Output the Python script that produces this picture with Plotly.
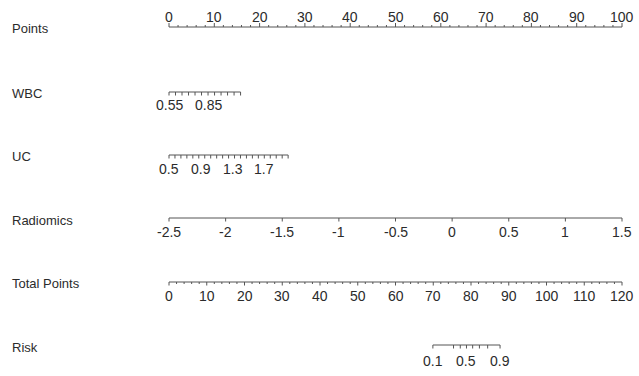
import numpy as np
import plotly.graph_objects as go

# ---- nomogram scales -------------------------------------------------------
row_names = ["Points", "WBC", "UC", "Radiomics", "Total Points", "Risk"]

points_ticks = list(range(0, 101, 2))
points_labels = list(range(0, 101, 10))

wbc_range = [0.55, 1.10]            # value span of the WBC scale
wbc_points = [0.0, 15.8]            # points contributed at the two ends
wbc_ticks = [0.55, 0.60, 0.65, 0.70, 0.75, 0.80, 0.85, 0.90, 0.95, 1.00, 1.05, 1.10]
wbc_labels = [0.55, 0.85]

uc_range = [0.5, 2.0]
uc_points = [0.0, 26.3]
uc_ticks = [0.5, 0.575, 0.65, 0.725, 0.8, 0.875, 0.95, 1.025, 1.1, 1.175, 1.25,
            1.325, 1.4, 1.475, 1.55, 1.625, 1.7, 1.775, 1.85, 1.925, 2.0]
uc_labels = [0.5, 0.9, 1.3, 1.7]

rad_range = [-2.5, 1.5]
rad_points = [0.0, 100.0]
rad_ticks = [-2.5, -2, -1.5, -1, -0.5, 0, 0.5, 1, 1.5]
rad_labels = [-2.5, -2, -1.5, -1, -0.5, 0, 0.5, 1, 1.5]

total_max = 120
total_ticks = list(range(0, 121, 2))
total_labels = list(range(0, 121, 10))

# logistic link: total points = risk_center + risk_slope * logit(p)
risk_center = 78.8
risk_slope = 4.05
risk_ticks = [0.1, 0.3, 0.4, 0.5, 0.6, 0.7, 0.8, 0.9]
risk_labels = [0.1, 0.5, 0.9]

# ---- mapping every scale onto the common "Points" axis --------------------
def lin(v, rng, pts):
    v = np.asarray(v, dtype=float)
    return pts[0] + (v - rng[0]) / (rng[1] - rng[0]) * (pts[1] - pts[0])

def total_to_x(tp):
    return np.asarray(tp, dtype=float) * 100.0 / total_max

def risk_to_x(p):
    p = np.asarray(p, dtype=float)
    return total_to_x(risk_center + risk_slope * np.log(p / (1 - p)))

def fmt(v):
    return ("%g" % v)

# row layout (vertical position in pixels from the top)
row_y = {"Points": 27, "WBC": 92, "UC": 155, "Radiomics": 218,
         "Total Points": 282, "Risk": 345}
name_y = {"Points": 28, "WBC": 93, "UC": 156, "Radiomics": 220,
          "Total Points": 283, "Risk": 347}

LINE = "#555555"
TEXT = "#2b2b2b"
FONT = "Liberation Sans, Arial, sans-serif"

fig = go.Figure()
annotations = []

def add_scale(name, tick_x, label_x, label_txt, y, up=False,
              major_x=None, minor_len=3.5, major_len=3.5, label_off=14):
    xs_line = [min(tick_x), max(tick_x)]
    fig.add_trace(go.Scatter(x=xs_line, y=[y, y], mode="lines",
                             line=dict(color=LINE, width=1),
                             hoverinfo="skip", showlegend=False))
    sgn = -1 if up else 1
    tx, ty = [], []
    major_set = set(np.round(major_x, 6)) if major_x is not None else None
    for t in tick_x:
        L = major_len if (major_set is None or round(float(t), 6) in major_set) else minor_len
        tx += [t, t, None]
        ty += [y, y + sgn * L, None]
    fig.add_trace(go.Scatter(x=tx, y=ty, mode="lines",
                             line=dict(color=LINE, width=1),
                             hoverinfo="skip", showlegend=False))
    for lx, lt in zip(label_x, label_txt):
        annotations.append(dict(x=lx, y=y + sgn * label_off, xref="x", yref="y",
                                text=lt, showarrow=False,
                                font=dict(size=14, color=TEXT, family=FONT),
                                xanchor="center", yanchor="middle"))

# Points
add_scale("Points", points_ticks, points_labels, [fmt(v) for v in points_labels],
          row_y["Points"], up=True, major_x=points_labels,
          minor_len=2, major_len=4, label_off=10.5)
# WBC
add_scale("WBC", lin(wbc_ticks, wbc_range, wbc_points),
          lin(wbc_labels, wbc_range, wbc_points), [fmt(v) for v in wbc_labels],
          row_y["WBC"], label_off=13)
# UC
add_scale("UC", lin(uc_ticks, uc_range, uc_points),
          lin(uc_labels, uc_range, uc_points), [fmt(v) for v in uc_labels],
          row_y["UC"], label_off=14)
# Radiomics
add_scale("Radiomics", lin(rad_ticks, rad_range, rad_points),
          lin(rad_labels, rad_range, rad_points), [fmt(v) for v in rad_labels],
          row_y["Radiomics"], label_off=14)
# Total Points
add_scale("Total Points", total_to_x(total_ticks), total_to_x(total_labels),
          [fmt(v) for v in total_labels], row_y["Total Points"],
          major_x=total_to_x(total_labels), minor_len=2, major_len=3.5, label_off=14)
# Risk
add_scale("Risk", risk_to_x(risk_ticks), risk_to_x(risk_labels),
          [fmt(v) for v in risk_labels], row_y["Risk"], label_off=16)

# row names on the left
for n in row_names:
    annotations.append(dict(x=10 / 639, y=name_y[n], xref="paper", yref="y",
                            text=n, showarrow=False,
                            font=dict(size=13, color=TEXT, family=FONT),
                            xanchor="left", yanchor="middle"))

px_per_pt = 4.53
x0_px = 169
fig.update_layout(
    width=639, height=376,
    margin=dict(l=0, r=0, t=0, b=0),
    paper_bgcolor="white", plot_bgcolor="white",
    xaxis=dict(range=[-x0_px / px_per_pt, (639 - x0_px) / px_per_pt],
               visible=False, fixedrange=True),
    yaxis=dict(range=[376, 0], visible=False, fixedrange=True),
    annotations=annotations,
    showlegend=False,
)

fig.write_html("out.html")
